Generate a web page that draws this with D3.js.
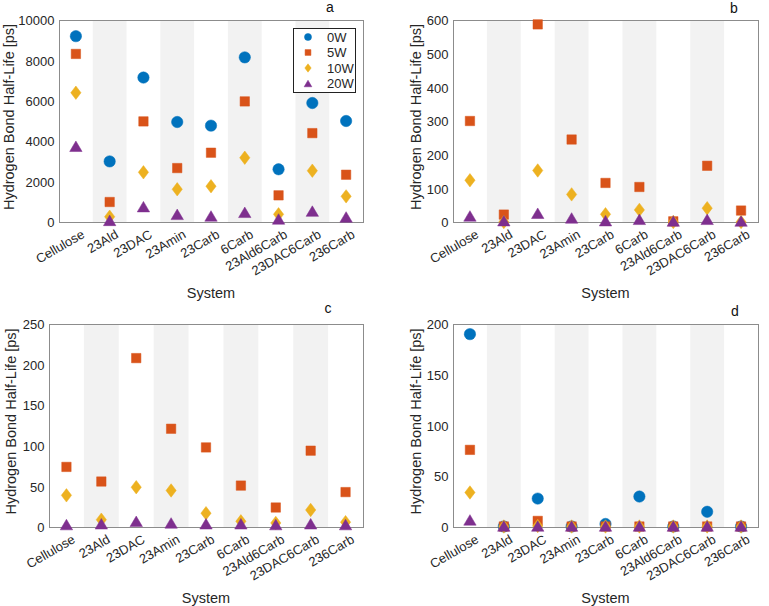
<!DOCTYPE html>
<html>
<head>
<meta charset="utf-8">
<script src="https://cdn.jsdelivr.net/npm/d3@7"></script>
<style>
  body { margin: 0; background: #fff; }
  svg { display: block; font-family: "Liberation Sans", Arial, sans-serif; }
</style>
</head>
<body>
<svg id="chart" width="769" height="606"></svg>
<script>
// categories and series
var categories = ["Cellulose", "23Ald", "23DAC", "23Amin", "23Carb", "6Carb", "23Ald6Carb", "23DAC6Carb", "236Carb"];
var seriesNames = ["0W", "5W", "10W", "20W"];

// panel a
var a0W  = [9200, 3000, 7150, 4950, 4770, 8150, 2610, 5890, 5000];
var a5W  = [8320, 990, 4980, 2670, 3430, 5970, 1320, 4400, 2340];
var a10W = [6400, 260, 2460, 1620, 1770, 3180, 380, 2540, 1270];
var a20W = [3750, 80, 760, 380, 300, 480, 150, 540, 250];
var aTicks = [0, 2000, 4000, 6000, 8000, 10000];

// panel b (0W off the scale)
var b0W  = [null, null, null, null, null, null, null, null, null];
var b5W  = [300, 22, 587, 245, 116, 104, 2, 167, 34];
var b10W = [124, 0, 153, 82, 23, 36, 0, 41, 0];
var b20W = [18, 4, 26, 12, 4, 8, 3, 8, 3];
var bTicks = [0, 100, 200, 300, 400, 500, 600];

// panel c (0W off the scale)
var c0W  = [null, null, null, null, null, null, null, null, null];
var c5W  = [74, 56, 208, 121, 98, 51, 24, 94, 43];
var c10W = [39, 9, 49, 45, 17, 7, 5, 21, 6];
var c20W = [3, 4, 7, 5, 4, 4, 3, 4, 3];
var cTicks = [0, 50, 100, 150, 200, 250];

// panel d
var d0W  = [190, 0.5, 28, 0.5, 3, 30, 0.5, 15, 0.5];
var d5W  = [76, 0.5, 6, 0.5, 0.5, 0.5, 0.5, 0.5, 0.5];
var d10W = [34, 0.5, 1, 0.5, 0.5, 0.5, 0.5, 0.5, 0.5];
var d20W = [7, 1, 1, 1, 1, 1, 1, 1, 1];
var dTicks = [0, 50, 100, 150, 200];

var colors = ["#0072BD", "#D95319", "#EDB120", "#7E2F8E"];
var textColor = "#262626";
var lineColor = "#8c8c8c";

// marker shapes, size passed in = half width in px
var diamondShape = { draw: function(ctx, s) {
    var w = s * 0.8, h = s * 1.05;
    ctx.moveTo(0, -h); ctx.lineTo(w, 0); ctx.lineTo(0, h); ctx.lineTo(-w, 0); ctx.closePath();
}};
var triangleShape = { draw: function(ctx, s) {
    var w = s, h = s * 0.85;
    ctx.moveTo(0, -h); ctx.lineTo(w, h); ctx.lineTo(-w, h); ctx.closePath();
}};
var circleShape = { draw: function(ctx, s) {
    ctx.moveTo(s, 0); ctx.arc(0, 0, s, 0, 2 * Math.PI);
}};
var squareShape = { draw: function(ctx, s) {
    ctx.rect(-s, -s, 2 * s, 2 * s);
}};
var shapes = [circleShape, squareShape, diamondShape, triangleShape];
var markerSize = [5.7, 4.7, 6.4, 6.2];

function markerPath(i, scale) {
    return d3.symbol().type(shapes[i]).size(markerSize[i] * (scale || 1))();
}

var panels = [
    { letter: "a", series: [a0W, a5W, a10W, a20W], ticks: aTicks, left: 59, top: 20, right: 363, bottom: 222, labelX: 9, letterX: 330, letterY: 12, legend: true },
    { letter: "b", series: [b0W, b5W, b10W, b20W], ticks: bTicks, left: 453, top: 20, right: 758, bottom: 222, labelX: 416, letterX: 734, letterY: 13 },
    { letter: "c", series: [c0W, c5W, c10W, c20W], ticks: cTicks, left: 49, top: 324, right: 363, bottom: 527, labelX: 11, letterX: 328, letterY: 313 },
    { letter: "d", series: [d0W, d5W, d10W, d20W], ticks: dTicks, left: 453, top: 324, right: 758, bottom: 527, labelX: 416, letterX: 735, letterY: 316 }
];

var svg = d3.select("#chart");

panels.forEach(function(p) {
    var g = svg.append("g");
    var x = d3.scaleBand().domain(categories).range([p.left, p.right]).padding(0);
    var y = d3.scaleLinear().domain([0, p.ticks[p.ticks.length - 1]]).range([p.bottom, p.top]);

    // alternating background bands
    g.selectAll("rect.band")
        .data(categories.filter(function(d, i) { return i % 2 === 1; }))
        .enter().append("rect")
        .attr("class", "band")
        .attr("x", function(d) { return x(d); })
        .attr("y", p.top)
        .attr("width", x.bandwidth())
        .attr("height", p.bottom - p.top)
        .style("fill", "#f2f2f2");

    // box
    g.append("rect")
        .attr("x", p.left + 0.5).attr("y", p.top + 0.5)
        .attr("width", p.right - p.left).attr("height", p.bottom - p.top)
        .style("fill", "none").style("stroke", lineColor).style("stroke-width", 1);

    // y axis
    var yAxis = d3.axisLeft(y).tickValues(p.ticks).tickSize(0).tickPadding(5).tickFormat(d3.format("d"));
    var ya = g.append("g").attr("transform", "translate(" + (p.left + 0.5) + ",0.5)").call(yAxis);
    ya.select(".domain").remove();
    ya.selectAll("text").style("font-size", "13px").style("fill", textColor)
        .style("font-family", "Liberation Sans, Arial, sans-serif");

    // x axis
    var xAxis = d3.axisBottom(x).tickSize(0).tickPadding(0);
    var xa = g.append("g").attr("transform", "translate(0," + p.bottom + ")").call(xAxis);
    xa.select(".domain").remove();
    xa.selectAll("text")
        .attr("y", 0).attr("dy", "0.71em")
        .attr("transform", "translate(5,7) rotate(-30)")
        .style("text-anchor", "end")
        .style("font-size", "13px").style("fill", textColor)
        .style("font-family", "Liberation Sans, Arial, sans-serif");

    // axis titles
    g.append("text")
        .attr("transform", "translate(" + p.labelX + "," + ((p.top + p.bottom) / 2 - 4) + ") rotate(-90)")
        .attr("text-anchor", "middle").attr("dy", "0.35em")
        .style("font-size", "14.5px").style("fill", textColor)
        .text("Hydrogen Bond Half-Life [ps]");

    g.append("text")
        .attr("x", (p.left + p.right) / 2).attr("y", p.bottom + 76)
        .attr("text-anchor", "middle")
        .style("font-size", "14.5px").style("fill", textColor)
        .text("System");

    g.append("text")
        .attr("x", p.letterX).attr("y", p.letterY)
        .attr("text-anchor", "middle")
        .style("font-size", "14px").style("fill", "#111")
        .text(p.letter);

    // markers
    p.series.forEach(function(vals, si) {
        g.append("g").selectAll("path")
            .data(vals.map(function(v, i) { return { cat: categories[i], v: v }; })
                      .filter(function(d) { return d.v !== null; }))
            .enter().append("path")
            .attr("d", markerPath(si))
            .attr("transform", function(d) {
                return "translate(" + (x(d.cat) + x.bandwidth() / 2) + "," + y(d.v) + ")";
            })
            .style("fill", colors[si])
            .style("stroke", colors[si])
            .style("stroke-width", 0.5);
    });

    // legend
    if (p.legend) {
        var lg = g.append("g").attr("transform", "translate(293,28)");
        lg.append("rect")
            .attr("x", 0.5).attr("y", 0.5).attr("width", 62).attr("height", 64)
            .style("fill", "#fff").style("stroke", "#222").style("stroke-width", 1);
        seriesNames.forEach(function(name, i) {
            var yy = 9 + i * 15.5;
            lg.append("path")
                .attr("d", markerPath(i, 0.62))
                .attr("transform", "translate(15," + yy + ")")
                .style("fill", colors[i]).style("stroke", colors[i]).style("stroke-width", 0.5);
            lg.append("text")
                .attr("x", 34).attr("y", yy).attr("dy", "0.35em")
                .style("font-size", "13px").style("fill", textColor)
                .text(name);
        });
    }
});
</script>
</body>
</html>
